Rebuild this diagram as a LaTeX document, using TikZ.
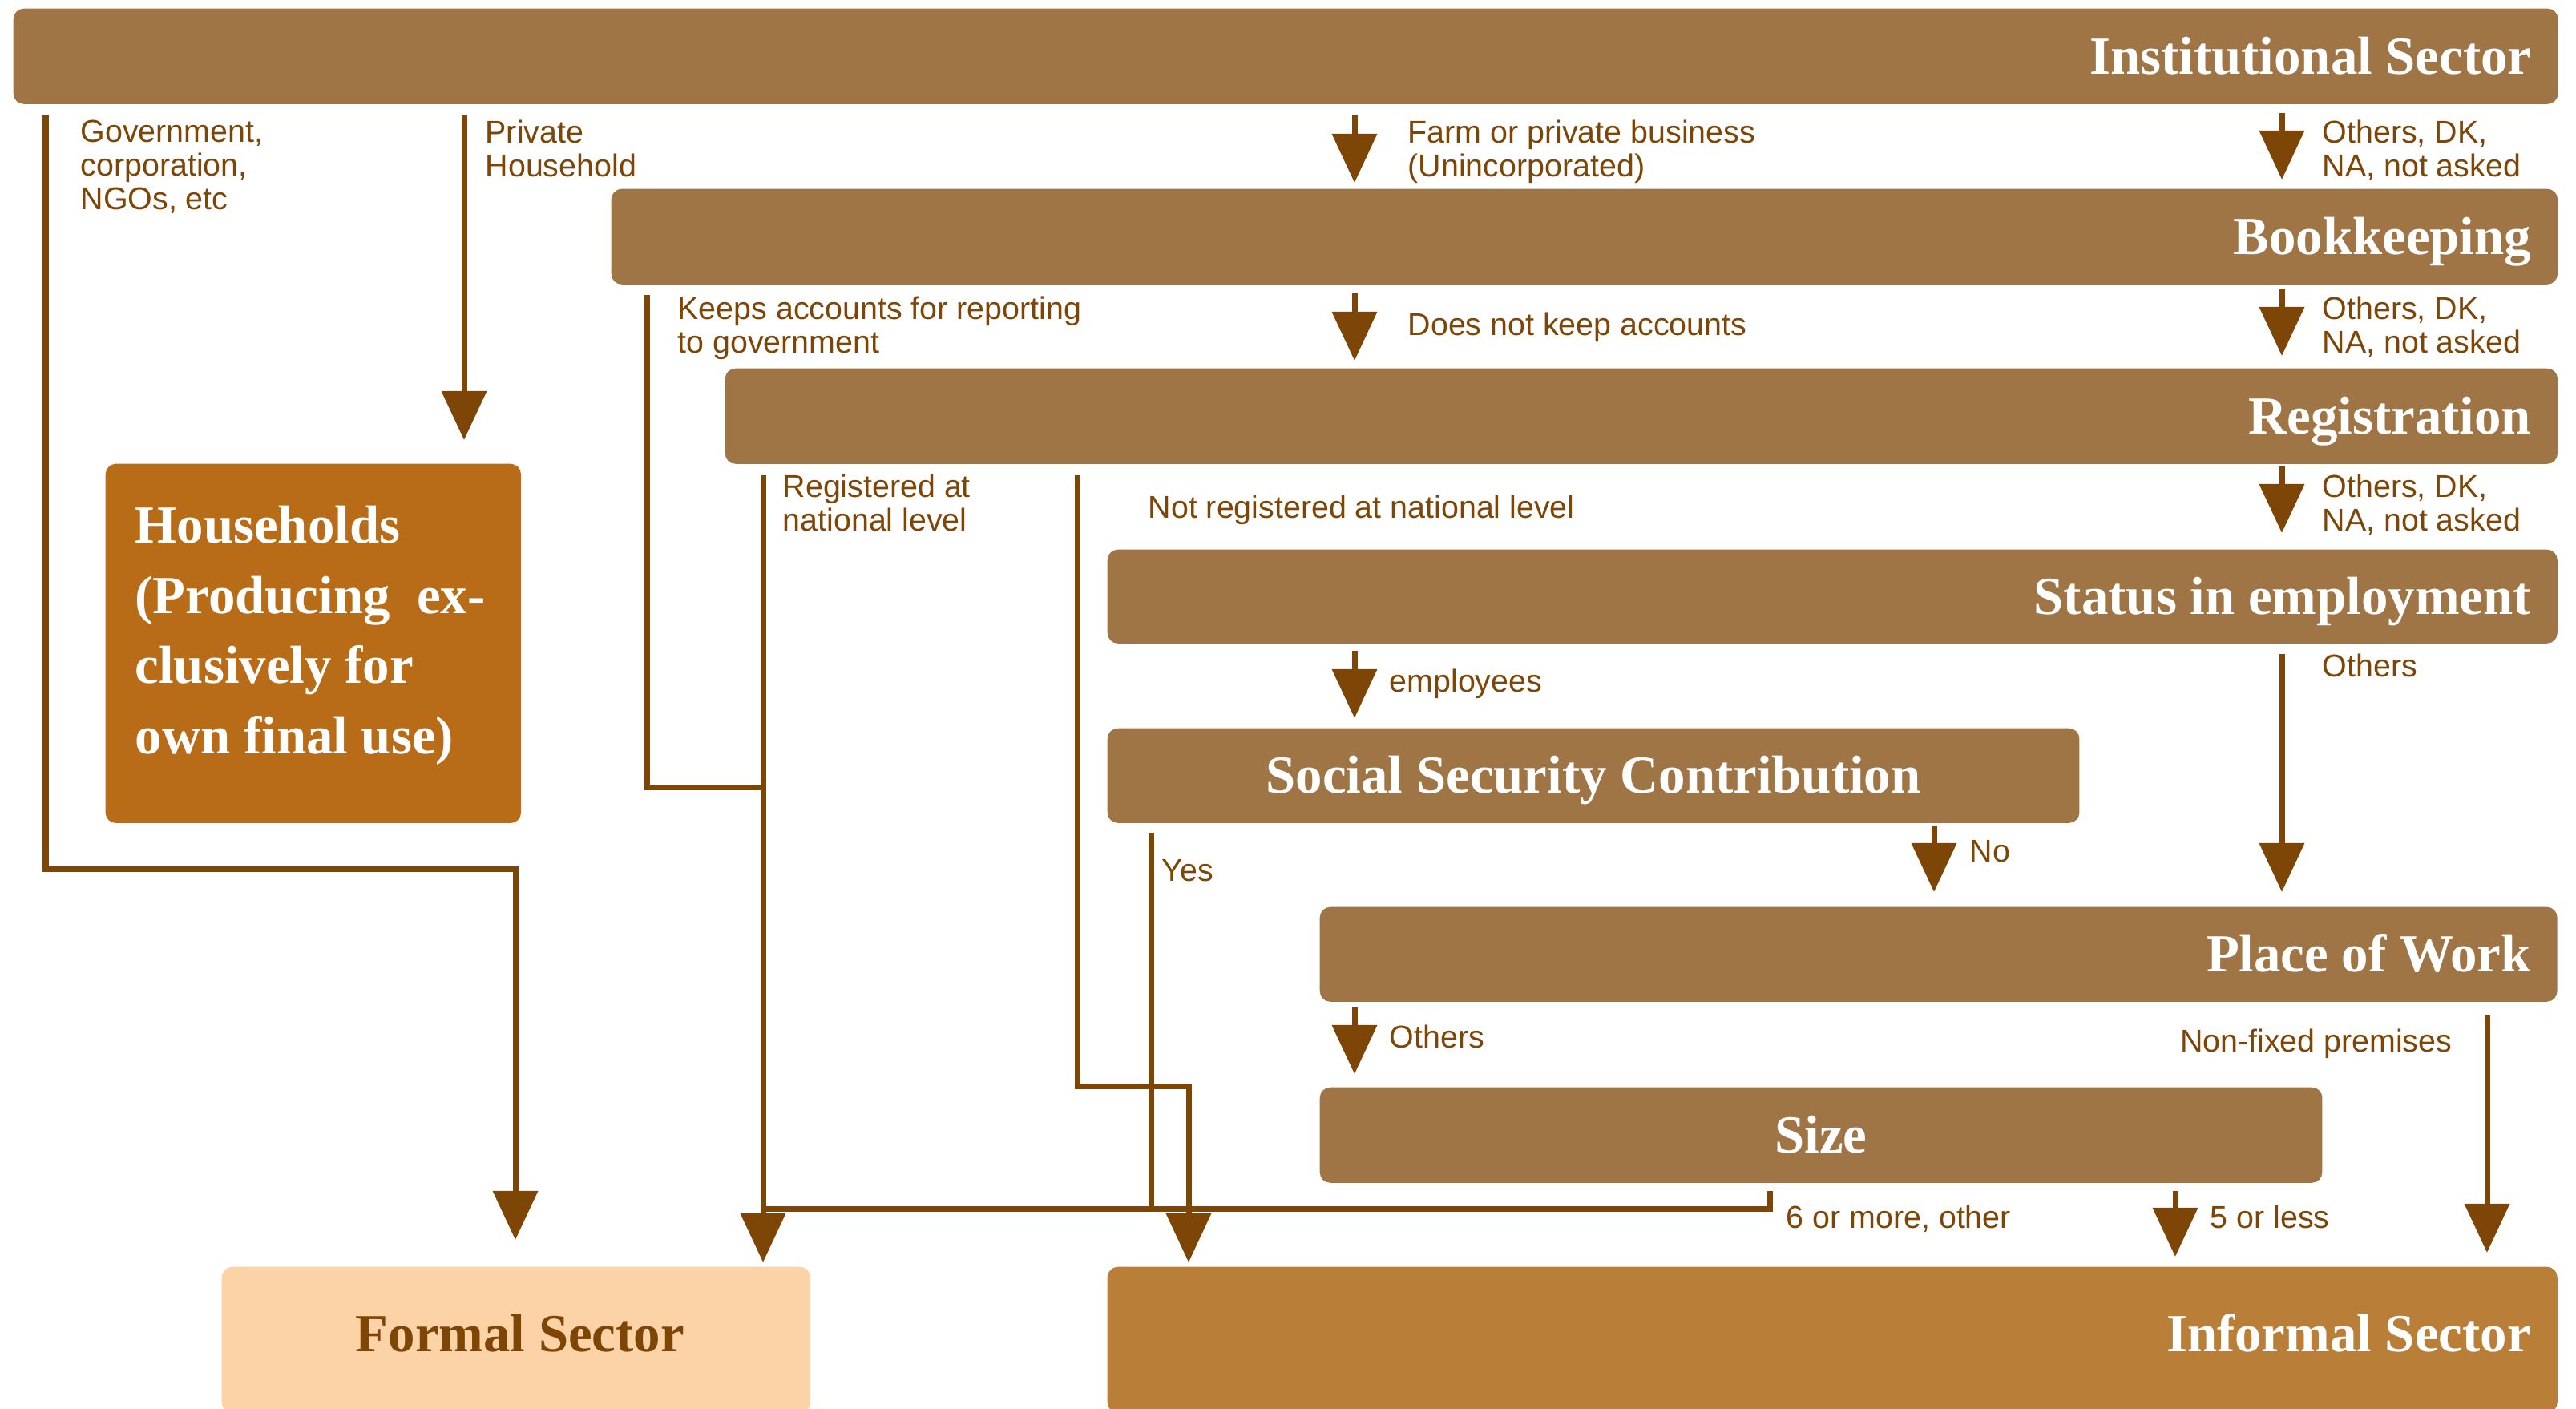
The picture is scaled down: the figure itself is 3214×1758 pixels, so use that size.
\documentclass[tikz,border=0pt]{standalone}
\usepackage{fontspec}
\setmainfont{Liberation Serif}
\setsansfont{Liberation Sans}
\usepackage{xcolor}
\usetikzlibrary{arrows.meta,positioning}
\definecolor{barbrown}{HTML}{9F7546}
\definecolor{hhorange}{HTML}{B86C17}
\definecolor{informalbrown}{HTML}{B97E38}
\definecolor{formalpeach}{HTML}{FBD3A6}
\definecolor{linebrown}{HTML}{7E4606}
\tikzset{
  bar/.style={fill=barbrown,rounded corners=0.13cm,inner sep=0pt,anchor=north west},
  bartitle/.style={text=white,font=\fontsize{19}{25}\selectfont\bfseries,inner sep=0pt,text height=12.6pt,text depth=0pt},
  lbl/.style={text=linebrown,font=\sffamily\fontsize{11.2}{11.95}\selectfont,align=left,inner sep=0pt,anchor=north west},
  link/.style={draw=linebrown,line width=0.07cm},
  flow/.style={link,-{Triangle[length=0.61cm,width=0.55cm]}}
}

\begin{document}
\begin{tikzpicture}[x=0.01cm,y=-0.01cm]
  \useasboundingbox (0,0) rectangle (3214,1758);
  % question bars
  \node[bar,minimum width=31.73cm,minimum height=1.19cm] (inst) at (16,10) {};
  \node[bartitle,left=0.33cm of inst.east] (inst-t) {Institutional Sector};
  \node[bar,minimum width=24.27cm,minimum height=1.19cm] (book) at (762,235) {};
  \node[bartitle,left=0.33cm of book.east] (book-t) {Bookkeeping};
  \node[bar,minimum width=22.85cm,minimum height=1.19cm] (reg) at (904,459) {};
  \node[bartitle,left=0.33cm of reg.east] (reg-t) {Registration};
  \node[bar,minimum width=18.08cm,minimum height=1.17cm] (status) at (1381,685) {};
  \node[bartitle,left=0.33cm of status.east] (status-t) {Status in employment};
  \node[bar,minimum width=12.12cm,minimum height=1.18cm] (ssc) at (1381,908) {};
  \node[bartitle] (ssc-t) at (ssc.center) {Social Security Contribution};
  \node[bar,minimum width=15.43cm,minimum height=1.18cm] (place) at (1646,1131) {};
  \node[bartitle,left=0.33cm of place.east] (place-t) {Place of Work};
  \node[bar,minimum width=12.50cm,minimum height=1.19cm] (size) at (1646,1356) {};
  \node[bartitle] (size-t) at (size.center) {Size};
  % outcomes
  \node[bar,fill=hhorange,minimum width=5.18cm,minimum height=4.48cm] (hh) at (131,578) {};
  \node[anchor=north west,inner sep=0pt,align=left,text=white,font=\fontsize{19}{25}\selectfont\bfseries] (hh-t) at ([xshift=0.37cm,yshift=-0.52cm]hh.north west)
    {Households\\(Producing\ \ ex-\\clusively for\\own final use)};
  \node[bar,fill=formalpeach,minimum width=7.34cm,minimum height=1.82cm] (formal) at (276,1580) {};
  \node[bartitle,text=linebrown] (formal-t) at ([xshift=0.05cm,yshift=0.07cm]formal.center) {Formal Sector};
  \node[bar,fill=informalbrown,minimum width=18.08cm,minimum height=1.82cm] (informal) at (1381,1580) {};
  \node[bartitle,left=0.33cm of informal.east,yshift=0.07cm] (informal-t) {Informal Sector};
  % answers
  \node[lbl] (gov-l) at (100,149) {Government,\\corporation,\\NGOs, etc};
  \node[lbl] (priv-l) at (605,149) {Private\\Household};
  \node[lbl] (farm-l) at (1756,149) {Farm or private business\\(Unincorporated)};
  \node[lbl] (inst-o) at (2897,149) {Others, DK,\\NA, not asked};
  \node[lbl] (keep-l) at (845,369) {Keeps accounts for reporting\\to government};
  \node[lbl] (nokeep-l) at (1756,389) {Does not keep accounts};
  \node[lbl] (book-o) at (2897,369) {Others, DK,\\NA, not asked};
  \node[lbl] (regd-l) at (976,591) {Registered at\\national level};
  \node[lbl] (nreg-l) at (1432,617) {Not registered at national level};
  \node[lbl] (reg-o) at (2897,591) {Others, DK,\\NA, not asked};
  \node[lbl] (empl-l) at (1733,834) {employees};
  \node[lbl] (status-o) at (2897,815) {Others};
  \node[lbl] (no-l) at (2457,1048) {No};
  \node[lbl] (yes-l) at (1449,1072) {Yes};
  \node[lbl] (place-o) at (1733,1278) {Others};
  \node[lbl,anchor=north east] (nonfix-l) at (3060,1283) {Non-fixed premises};
  \node[lbl] (six-l) at (2228,1503) {6 or more, other};
  \node[lbl] (five-l) at (2757,1503) {5 or less};
  % connector ends
  \coordinate (c-gov) at (57,144);
  \coordinate (t-gov) at (643,1084);
  \coordinate (c-priv) at (579,144);
  \coordinate (c-farm) at (1690,144);
  \coordinate (c-inst-o) at (2847,141);
  \coordinate (c-keep) at (807,368);
  \coordinate (c-nokeep) at (1690,366);
  \coordinate (c-book-o) at (2847,360);
  \coordinate (c-regd) at (952,593);
  \coordinate (j-keep) at (952,982);
  \coordinate (c-nreg) at (1344,593);
  \coordinate (t-nreg) at (1483,1355);
  \coordinate (c-reg-o) at (2847,582);
  \coordinate (c-empl) at (1690,812);
  \coordinate (c-status-o) at (2847,816);
  \coordinate (c-no) at (2413,1030);
  \coordinate (c-yes) at (1436,1039);
  \coordinate (c-place-o) at (1690,1256);
  \coordinate (c-nonfix) at (3103,1267);
  \coordinate (c-six) at (2208,1486);
  \coordinate (j-six) at (952,1508);
  \coordinate (c-five) at (2714,1486);
  % connectors
  \draw[flow,shorten >=0.33cm] (c-gov) |- (t-gov) -- (t-gov |- formal.north);
  \draw[flow,shorten >=0.29cm] (c-priv) -- (c-priv |- hh.north);
  \draw[flow,shorten >=0.07cm] (c-farm) -- (c-farm |- book.north);
  \draw[flow,shorten >=0.11cm] (c-inst-o) -- (c-inst-o |- book.north);
  \draw[link] (c-keep) |- (j-keep);
  \draw[flow,shorten >=0.05cm] (c-regd) -- (c-regd |- formal.north);
  \draw[flow,shorten >=0.09cm] (c-nokeep) -- (c-nokeep |- reg.north);
  \draw[flow,shorten >=0.15cm] (c-book-o) -- (c-book-o |- reg.north);
  \draw[flow,shorten >=0.05cm] (c-nreg) |- (t-nreg) -- (t-nreg |- informal.north);
  \draw[flow,shorten >=0.2cm] (c-reg-o) -- (c-reg-o |- status.north);
  \draw[flow,shorten >=0.12cm] (c-empl) -- (c-empl |- ssc.north);
  \draw[flow,shorten >=0.18cm] (c-status-o) -- (c-status-o |- place.north);
  \draw[flow,shorten >=0.18cm] (c-no) -- (c-no |- place.north);
  \draw[link] (c-yes) -- (c-yes |- j-six);
  \draw[flow,shorten >=0.16cm] (c-place-o) -- (c-place-o |- size.north);
  \draw[flow,shorten >=0.17cm] (c-nonfix) -- (c-nonfix |- informal.north);
  \draw[link] (c-six) |- (j-six);
  \draw[flow,shorten >=0.12cm] (c-five) -- (c-five |- informal.north);
\end{tikzpicture}
\end{document}
